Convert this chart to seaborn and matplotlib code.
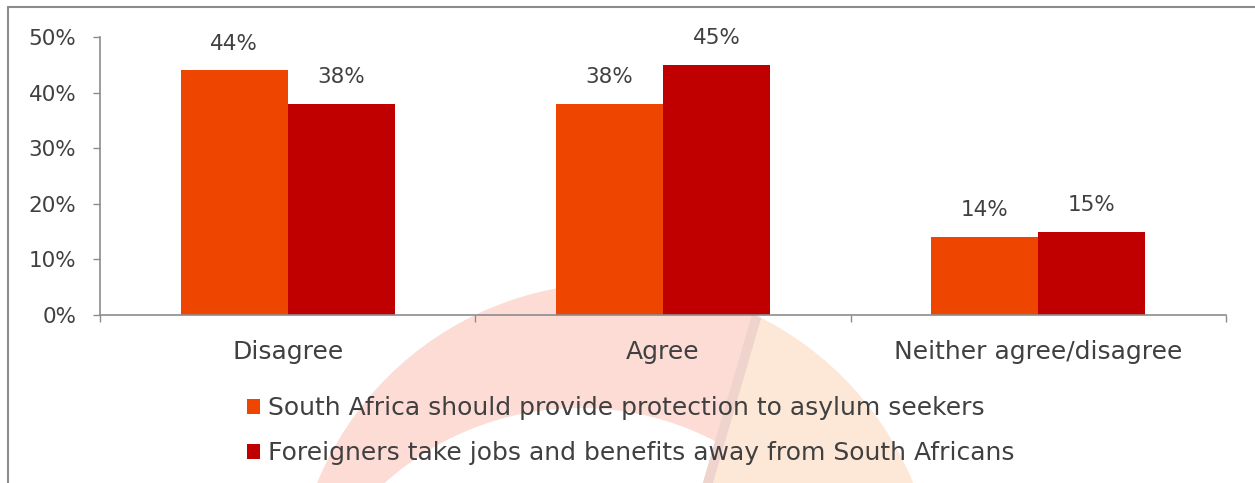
import matplotlib
matplotlib.use("Agg")
import matplotlib.pyplot as plt
import seaborn as sns
import pandas as pd
from matplotlib.patches import Circle, Polygon
from matplotlib.lines import Line2D

categories = ["Disagree", "Agree", "Neither agree/disagree"]
series_names = ["South Africa should provide protection to asylum seekers",
                "Foreigners take jobs and benefits away from South Africans"]
protection = [44, 38, 14]
jobs = [38, 45, 15]
y_ticks = [0, 10, 20, 30, 40, 50]
colors = ["#EE4600", "#C00000"]

df = pd.DataFrame({
    "category": categories * 2,
    "series": [series_names[0]] * 3 + [series_names[1]] * 3,
    "value": protection + jobs,
})

sns.set_theme(style="white")
plt.rcParams["font.family"] = ["DejaVu Sans"]
text_color = "#404040"
W, H = 1255, 483
fig = plt.figure(figsize=(W / 100, H / 100), dpi=100)
fig.patch.set_facecolor("white")

# faint watermark arc in the background (pixel coordinates, y down)
bg = fig.add_axes([0, 0, 1, 1], zorder=0)
bg.set_xlim(0, W)
bg.set_ylim(H, 0)
bg.axis("off")
outer = Circle((615, 605), 322, facecolor="#FDDCD6", edgecolor="none")
bg.add_patch(outer)
bg.add_patch(Circle((580, 700), 292, facecolor="white", edgecolor="none"))
clipc = Circle((615, 605), 322, transform=bg.transData)
orange = Polygon([(786, 216), (1000, 216), (1000, 520), (697, 520)],
                 facecolor="#FDE8D8", edgecolor="none")
bg.add_patch(orange)
orange.set_clip_path(clipc)
band = Line2D([786, 697], [216, 520], color="#EFD3CD", lw=7)
bg.add_line(band)
band.set_clip_path(clipc)
# frame lines
bg.add_line(Line2D([8, 8], [7, H], color="#8C8C8C", lw=1.5))
bg.add_line(Line2D([8, W], [7, 7], color="#8C8C8C", lw=1.5))

ax = fig.add_axes([100 / W, 1 - 315 / H, (1226 - 100) / W, (315 - 37) / H], zorder=1)
ax.patch.set_alpha(0)
sns.barplot(data=df, x="category", y="value", hue="series", order=categories,
            hue_order=series_names, palette=colors, width=0.57, saturation=1,
            edgecolor="none", linewidth=0, ax=ax, legend=True)

ax.set_ylim(0, 50)
ax.set_xlim(-0.5, 2.5)
ax.set_yticks(y_ticks)
ax.set_yticklabels([f"{v}%" for v in y_ticks], fontsize=15.5, color=text_color)
ax.set_xticks(range(len(categories)))
ax.set_xticklabels(categories, fontsize=18, color=text_color)
ax.set_xticks([-0.5, 0.5, 1.5, 2.5], minor=True)
ax.tick_params(axis="x", which="major", length=0, pad=18)
ax.tick_params(axis="x", which="minor", length=5, width=1, color="#8C8C8C", direction="out", bottom=True)
ax.tick_params(axis="y", length=5, width=1, color="#8C8C8C", direction="out", left=True, pad=12)
ax.set_xlabel("")
ax.set_ylabel("")
for side in ["top", "right"]:
    ax.spines[side].set_visible(False)
for side in ["left", "bottom"]:
    ax.spines[side].set_color("#8C8C8C")
    ax.spines[side].set_linewidth(1.2)

for cont in ax.containers:
    ax.bar_label(cont, labels=[f"{v:.0f}%" for v in cont.datavalues], padding=12,
                 fontsize=15.5, color=text_color)

handles, labels = ax.get_legend_handles_labels()
ax.get_legend().remove()
fig.legend(handles, labels, loc="upper left", bbox_to_anchor=(247 / W, 1 - 396 / H),
           frameon=False, fontsize=18, handlelength=0.5, handleheight=0.55,
           handletextpad=0.32, labelspacing=0.84, labelcolor=text_color,
           borderaxespad=0, borderpad=0)

fig.savefig("out.png", dpi=100, facecolor="white")
